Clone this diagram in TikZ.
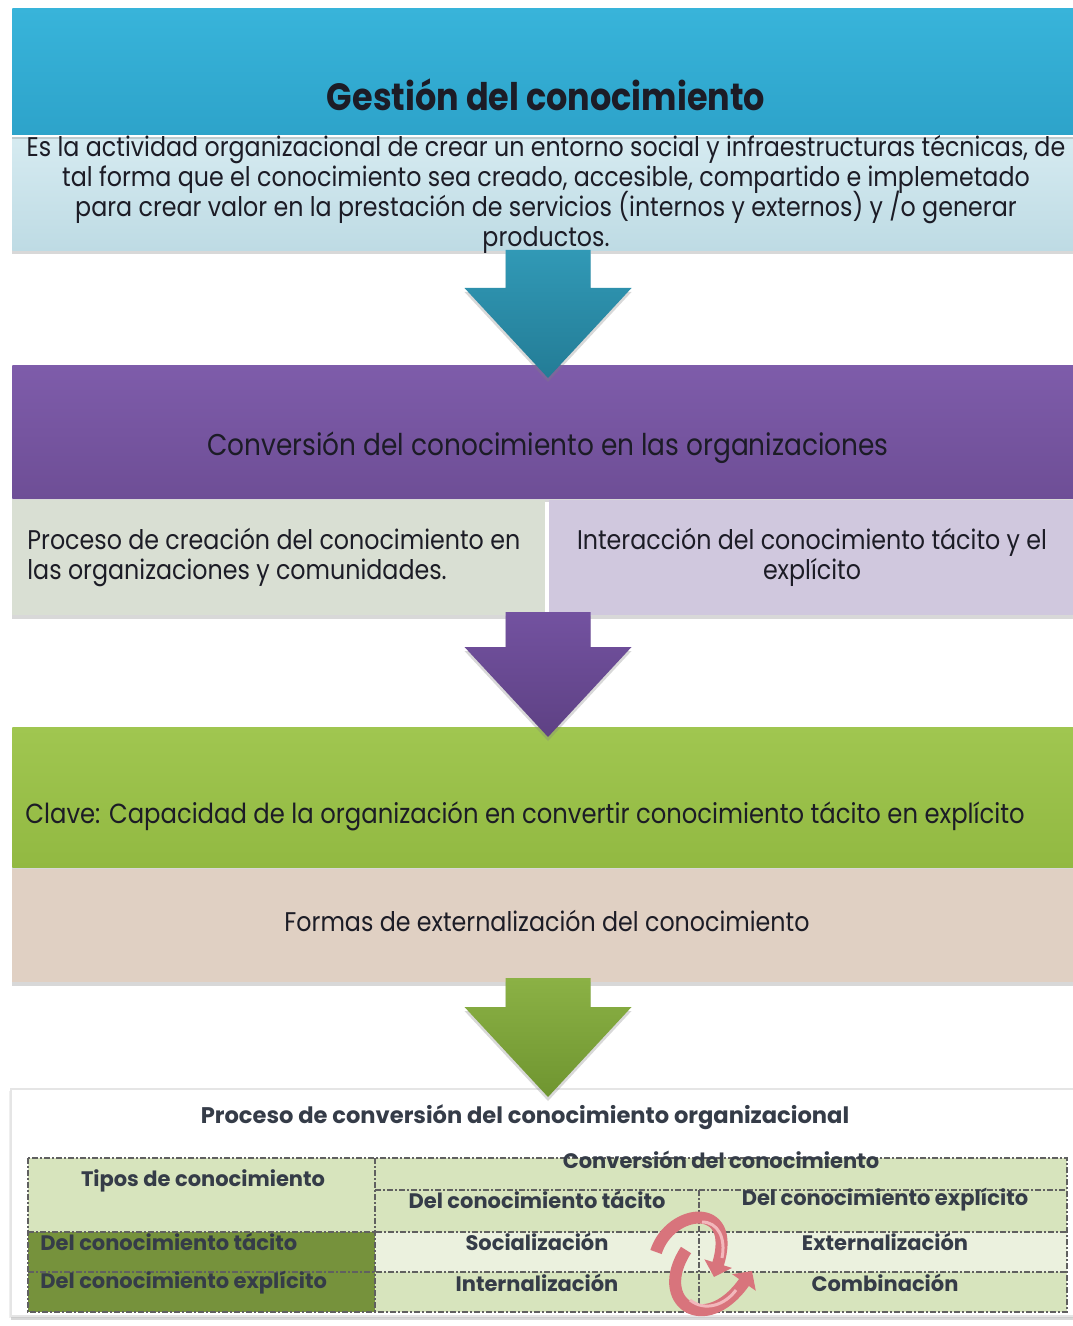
\documentclass[tikz,border=0pt]{standalone}
\usepackage{fontspec}
\setmainfont{Poppins}[FakeStretch=0.88]
\newfontfamily\tabfont{Poppins}
\usetikzlibrary{shadows,arrows.meta,calc}
\newcommand\tightlines{\setlength{\lineskiplimit}{-10pt}\setlength{\lineskip}{0pt}}
\definecolor{blueA}{HTML}{38B4DA}
\definecolor{blueB}{HTML}{2DA3CA}
\definecolor{lblueA}{HTML}{D6EBF1}
\definecolor{lblueB}{HTML}{BEDBE4}
\definecolor{tealA}{HTML}{3199B6}
\definecolor{tealB}{HTML}{237C96}
\definecolor{purA}{HTML}{7E5CAA}
\definecolor{purB}{HTML}{6E4E96}
\definecolor{purArA}{HTML}{7352A0}
\definecolor{purArB}{HTML}{5E4184}
\definecolor{subL}{HTML}{D9DFD3}
\definecolor{subR}{HTML}{D0C8DE}
\definecolor{grA}{HTML}{A0C650}
\definecolor{grB}{HTML}{92B942}
\definecolor{grArA}{HTML}{8BB145}
\definecolor{grArB}{HTML}{6F9530}
\definecolor{beige}{HTML}{E0D0C3}
\definecolor{tLight}{HTML}{D7E4BD}
\definecolor{tLighter}{HTML}{EBF1DE}
\definecolor{tDark}{HTML}{76923C}
\definecolor{tText}{HTML}{353C48}
\definecolor{bodyText}{HTML}{1C1C26}
\definecolor{cyc}{HTML}{D8747C}
\definecolor{cycL}{HTML}{F2B8BC}
\tikzset{
  box/.style={rectangle, anchor=north west, inner sep=0pt, minimum width=534pt,
    drop shadow={opacity=0.3, shadow xshift=0pt, shadow yshift=-2pt}},
  body/.style={font=\fontsize{13.5}{15}\selectfont\tightlines, text=bodyText, inner sep=0pt},
  head/.style={font=\fontsize{19}{22}\selectfont\bfseries, text=bodyText, inner sep=0pt},
  tab/.style={font=\tabfont\fontsize{10.5}{12}\selectfont\bfseries, text=tText, inner sep=0pt},
  grid/.style={draw=gray!75!black, line width=0.6pt, dash pattern=on 3pt off 1pt on 1pt off 1pt},
  cycarrow/.style={draw=cyc, line width=6pt, -{Triangle[width=14pt,length=7pt]}},
  cychi/.style={draw=cycL, line width=1.5pt}
}
\newcommand\blockarrow[4]{% #1 top colour, #2 bottom colour, #3 start, #4 tip
  \shade[top color=#1, bottom color=#2, drop shadow={opacity=0.3, shadow xshift=0pt, shadow yshift=-2pt}]
    let \p1=(#3), \p2=(#4) in
    (\x1-21.25pt,\y1) -- (\x1+21.25pt,\y1) -- (\x1+21.25pt,\y2+45pt) -- (\x1+41.75pt,\y2+45pt)
    -- (\x2,\y2) -- (\x1-41.75pt,\y2+45pt) -- (\x1-21.25pt,\y2+45pt) -- cycle;}
\begin{document}
\begin{tikzpicture}[x=0.5pt,y=-0.5pt]
\useasboundingbox (0,0) rectangle (1072,1326);
\fill[white] (0,0) rectangle (1072,1326);

% ---- box 1
\node[box, minimum height=57.5pt, top color=lblueA, bottom color=lblueB] (b1l) at (12,135) {};
\node[box, minimum height=63.5pt, top color=blueA, bottom color=blueB] (b1) at (12,8) {};
\draw[white, line width=1pt] (b1.south west) -- (b1.south east);
\node[head] (t1) at (546,95) {Gestión del conocimiento};
\node[body, align=center] (t1b) at (546,194) {Es la actividad organizacional de crear un entorno social y infraestructuras técnicas, de\\
tal forma que el conocimiento sea creado, accesible, compartido e implemetado\\
para crear valor en la prestación de servicios (internos y externos) y /o generar\\
productos.};

% ---- box 2
\node[box, minimum height=66.5pt, top color=purA, bottom color=purB] (b2) at (12,365) {};
\node[box, minimum width=266.5pt, minimum height=57.5pt, fill=subL] (b2l) at (12,500) {};
\node[box, minimum width=266pt, minimum height=57.5pt, fill=subR] (b2r) at (549,500) {};
\node[body, font=\fontsize{15}{17}\selectfont] (t2) at (548,448) {Conversión del conocimiento en las organizaciones};
\node[body, align=left, anchor=west] (t2l) at (27,557) {Proceso de creación del conocimiento en\\las organizaciones y comunidades.};
\node[body, align=center] (t2r) at (812,557) {Interacción del conocimiento tácito y el\\explícito};

% ---- box 3
\node[box, minimum height=70pt, top color=grA, bottom color=grB] (b3) at (12,727) {};
\node[box, minimum height=56.5pt, fill=beige] (b3l) at (12,869) {};
\node[body, anchor=west, font=\fontsize{13.8}{15}\selectfont] (t3) at (25,816) {Clave: Capacidad de la organización en convertir conocimiento tácito en explícito};
\node[body] (t3l) at (547,921) {Formas de externalización del conocimiento};

% ---- bottom panel
\node[box, minimum width=535pt, minimum height=113.5pt, fill=white, draw=gray!20, line width=1pt,
  drop shadow={opacity=0.12, shadow xshift=-1pt, shadow yshift=-1pt}] (p) at (10,1088) {};

% ---- arrows
\coordinate (a1s) at (548,250); \coordinate (a1t) at (548,378);
\coordinate (a2s) at (548,612); \coordinate (a2t) at (548,737);
\coordinate (a3s) at (548,978); \coordinate (a3t) at (548,1097);
\blockarrow{tealA}{tealB}{a1s}{a1t}
\blockarrow{purArA}{purArB}{a2s}{a2t}
\blockarrow{grArA}{grArB}{a3s}{a3t}

% ---- table
\fill[tLight] (28,1158) rectangle (1067,1232);
\fill[tDark] (28,1232) rectangle (375,1312);
\fill[tLighter] (375,1232) rectangle (1067,1272);
\fill[tLight] (375,1272) rectangle (1067,1312);
\draw[grid] (28,1158) rectangle (1067,1312);
\draw[grid] (375,1158) -- (375,1312);
\draw[grid] (375,1190) -- (1067,1190);
\draw[grid] (699,1190) -- (699,1312);
\draw[grid] (28,1232) -- (1067,1232);
\draw[grid] (28,1272) -- (1067,1272);

\node[tab, font=\tabfont\fontsize{11.3}{13}\selectfont\bfseries] (pt) at (525,1117) {Proceso de conversión del conocimiento organizacional};
\node[tab] (c11) at (203,1181) {Tipos de conocimiento};
\node[tab] (c12) at (721,1160) {Conversión del conocimiento};
\node[tab] (c22) at (537,1200) {Del conocimiento tácito};
\node[tab] (c23) at (885,1200) {Del conocimiento explícito};
\node[tab, anchor=west] (c31) at (40,1242) {Del conocimiento tácito};
\node[tab] (c32) at (537,1242) {Socialización};
\node[tab] (c33) at (885,1242) {Externalización};
\node[tab, anchor=west] (c41) at (40,1283) {Del conocimiento explícito};
\node[tab] (c42) at (537,1283) {Internalización};
\node[tab] (c43) at (885,1283) {Combinación};

% ---- cycle arrows
\coordinate (cyA1) at (656,1252); \coordinate (cyA2) at (714,1277);
\coordinate (cyB1) at (686,1250); \coordinate (cyB2) at (752,1271);
\draw[cycarrow] (cyA1) .. controls (670,1208) and (738,1200) .. (cyA2);
\draw[cycarrow] (cyB1) .. controls (652,1302) and (705,1338) .. (cyB2);
\draw[cychi] (702,1222) .. controls (718,1222) and (726,1238) .. (722,1258);
\draw[cychi] (690,1300) .. controls (705,1312) and (725,1305) .. (736,1290);
\end{tikzpicture}
\end{document}
